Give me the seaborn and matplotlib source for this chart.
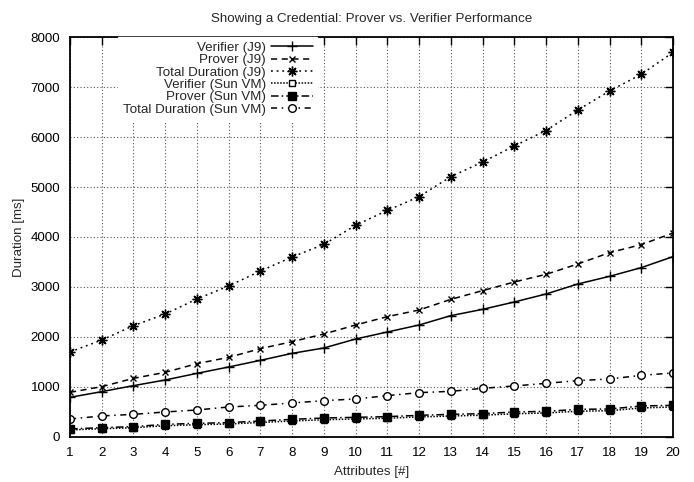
import matplotlib
matplotlib.use("Agg")
import matplotlib.pyplot as plt
import seaborn as sns
import pandas as pd

attributes = list(range(1, 21))

verifier_j9 = [793, 907, 1027, 1140, 1273, 1400, 1533, 1673, 1780, 1960,
               2100, 2240, 2427, 2553, 2700, 2860, 3060, 3213, 3387, 3607]
prover_j9 = [893, 1007, 1173, 1293, 1467, 1593, 1767, 1907, 2060, 2240,
             2407, 2540, 2753, 2927, 3100, 3253, 3460, 3687, 3847, 4080]
total_j9 = [1700, 1940, 2227, 2460, 2760, 3020, 3320, 3600, 3853, 4233,
            4533, 4807, 5207, 5500, 5820, 6130, 6540, 6920, 7253, 7693]
verifier_sun = [140, 165, 185, 225, 245, 260, 290, 320, 345, 360,
                375, 400, 420, 435, 465, 480, 515, 525, 580, 600]
prover_sun = [160, 187, 207, 253, 273, 287, 320, 353, 380, 393,
              407, 433, 453, 467, 500, 513, 553, 560, 620, 633]
total_sun = [360, 420, 453, 500, 540, 600, 633, 680, 727, 760,
             827, 887, 913, 973, 1020, 1073, 1127, 1160, 1233, 1280]

series = [
    ("Verifier (J9)", verifier_j9, dict(linestyle="-", marker="+", markersize=7, mfc="black")),
    ("Prover (J9)", prover_j9, dict(linestyle=(0, (4, 3)), marker="x", markersize=5, mfc="black")),
    ("Total Duration (J9)", total_j9, dict(linestyle=(0, (1.2, 2.5)), marker=(8, 2, 0), markersize=7, mfc="black")),
    ("Verifier (Sun VM)", verifier_sun, dict(linestyle=(0, (1, 1)), marker="s", markersize=5, mfc="white")),
    ("Prover (Sun VM)", prover_sun, dict(linestyle=(0, (5, 2, 1, 2)), marker="s", markersize=6, mfc="black")),
    ("Total Duration (Sun VM)", total_sun, dict(linestyle=(0, (4, 3, 1, 3)), marker="o", markersize=5.5, mfc="white")),
]

sns.set_style("white")
plt.rcParams["font.family"] = ["Liberation Sans", "DejaVu Sans"]

fig = plt.figure(figsize=(6.94, 4.82), dpi=100)
ax = fig.add_axes([0.1009, 0.0934, 0.8688, 0.8298])

for name, values, style in series:
    df = pd.DataFrame({"x": attributes, "y": values})
    sns.lineplot(data=df, x="x", y="y", ax=ax, color="black", linewidth=1.1,
                 label=name, markeredgecolor="black", markeredgewidth=1.0, **style)

ax.set_xlim(1, 20)
ax.set_ylim(0, 8000)
ax.set_xticks(attributes)
ax.set_yticks(range(0, 8001, 1000))
ax.grid(True, color="#555555", linestyle=(0, (1, 2)), linewidth=0.8)
ax.tick_params(direction="in", top=True, right=True, length=6, width=1,
               labelsize=9.6, colors="black", pad=7)
for s in ax.spines.values():
    s.set_color("black")
    s.set_linewidth(1.3)

ax.set_title("Showing a Credential: Prover vs. Verifier Performance", fontsize=9.6, pad=11)
ax.set_xlabel("Attributes [#]", fontsize=9.6, labelpad=5)
ax.set_ylabel("Duration [ms]", fontsize=9.6, labelpad=4)

leg = ax.legend(loc="upper right", bbox_to_anchor=(0.41, 1.0), markerfirst=False,
                frameon=True, fontsize=9.6, handlelength=3.1, handletextpad=0.4,
                labelspacing=0.0, borderpad=0.35, borderaxespad=0.0)
leg.get_frame().set_edgecolor("white")
leg.get_frame().set_facecolor("white")
leg.get_frame().set_alpha(1)
leg.get_frame().set_boxstyle("square", pad=0)
for t in leg.get_texts():
    t.set_ha("right")
leg._legend_box.align = "right"
leg.set_zorder(5)

fig.savefig("out.png", dpi=100)
